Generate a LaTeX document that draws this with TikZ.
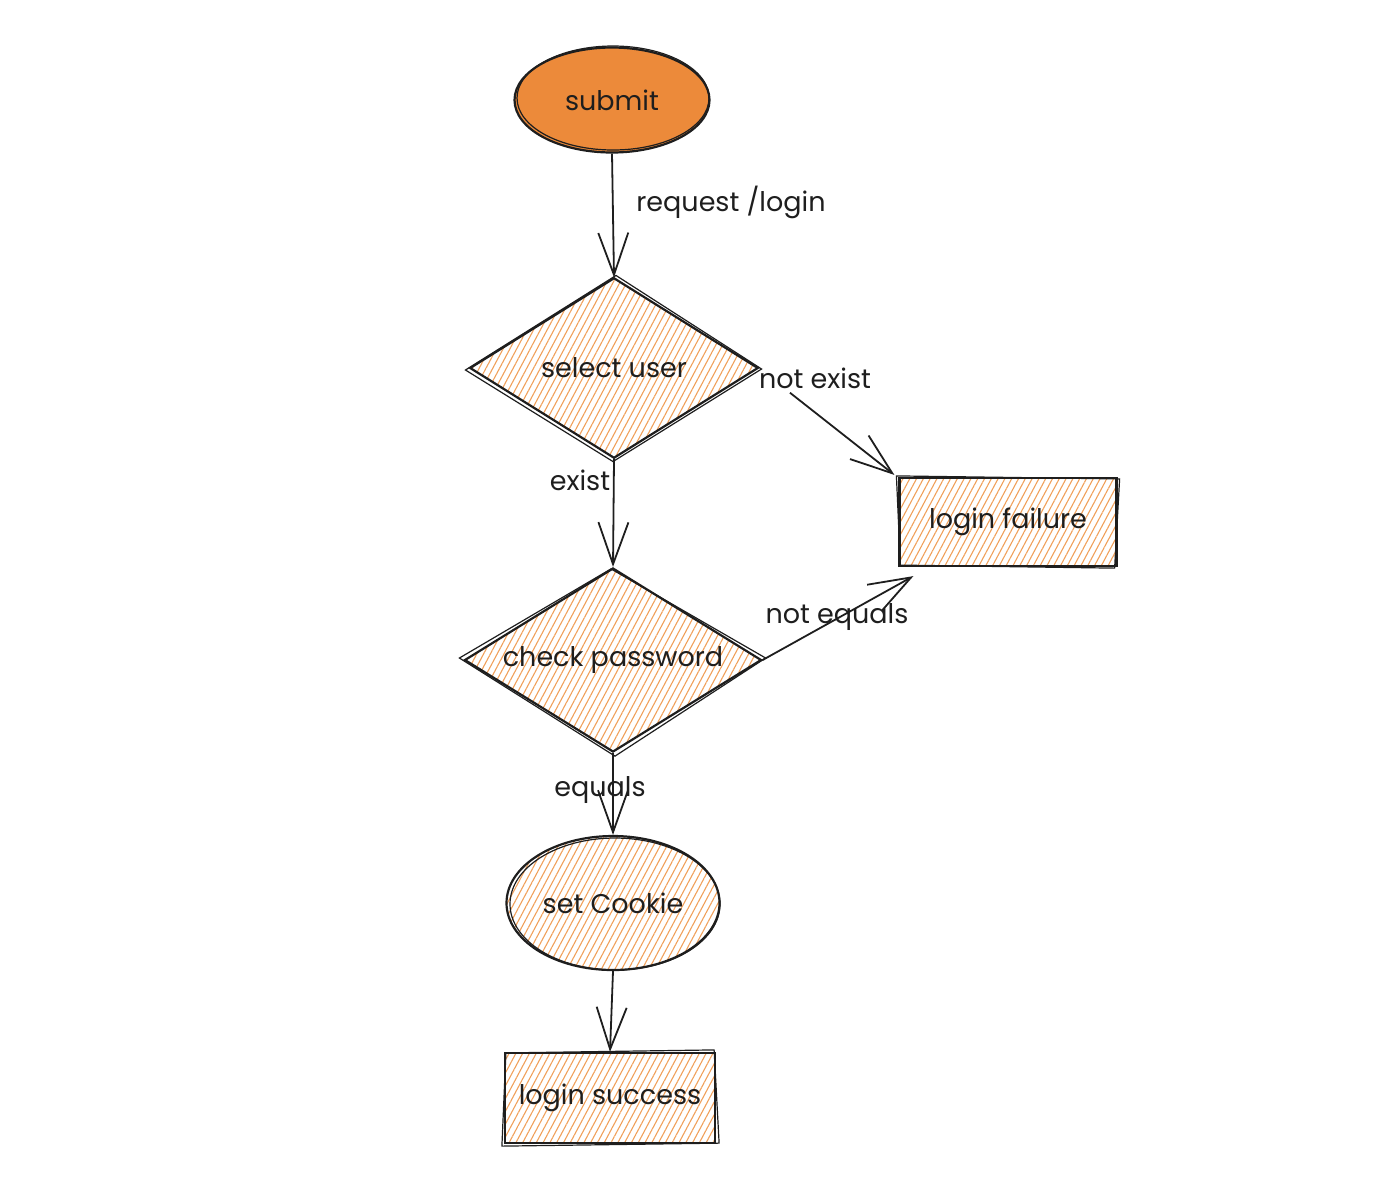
\documentclass[tikz,border=0pt]{standalone}
\usepackage{fontspec}
\setmainfont{Poppins}
\usetikzlibrary{shapes.geometric,arrows.meta,patterns.meta}
\definecolor{solidorange}{HTML}{EC8A3A}
\definecolor{hachorange}{HTML}{F0A05A}
\definecolor{ink}{HTML}{1E1E1E}
\tikzset{
  x=0.5pt, y=-0.5pt,
  every node/.style={font=\fontsize{13.5}{15}\selectfont, text=ink},
  shapeline/.style={draw=ink, line width=1.1pt},
  hach/.style={pattern={Lines[angle=62,distance=3pt,line width=0.55pt]}, pattern color=hachorange},
  decision/.style={shapeline, hach, diamond, aspect=1.6, inner sep=0pt},
  terminal/.style={shapeline, ellipse, inner sep=0pt},
  process/.style={shapeline, hach, rectangle, inner sep=0pt},
  second/.style={draw=ink, line width=0.6pt},
  flow/.style={draw=ink, line width=0.9pt, -{Straight Barb[length=21pt,width=15pt,line width=0.9pt]}},
  lbl/.style={inner sep=1pt},
}
\begin{document}
\begin{tikzpicture}
\useasboundingbox (0,0) rectangle (1400,1180);
% nodes
\node[terminal, fill=solidorange, minimum width=97.5pt, minimum height=52.5pt] (sub) at (612,100) {submit};
\node[decision, minimum width=144pt, minimum height=90pt] (su) at (614,368) {select user};
\node[process, minimum width=108.5pt, minimum height=44pt] (lf) at (1008,522) {login failure};
\node[decision, minimum width=148.5pt, minimum height=92pt] (cp) at (613,660) {check password};
\node[terminal, hach, minimum width=106.5pt, minimum height=67pt] (sc) at (613,903) {set Cookie};
\node[process, minimum width=105pt, minimum height=45pt] (ls) at (610,1098) {login success};
% sketchy second strokes
\draw[second] ([shift={(-4,2)}]su.west) -- ([shift={(2,-2)}]su.north) -- ([shift={(3,1)}]su.east) -- ([shift={(-1,3)}]su.south) -- cycle;
\draw[second] ([shift={(-4,-2)}]cp.west) -- ([shift={(-2,2)}]cp.north) -- ([shift={(3,-2)}]cp.east) -- ([shift={(2,3)}]cp.south) -- cycle;
\draw[second] ([shift={(-2,-1)}]lf.north west) -- ([shift={(2,2)}]lf.north east) -- ([shift={(-3,1)}]lf.south east) -- ([shift={(2,-2)}]lf.south west) -- cycle;
\draw[second] ([shift={(2,1)}]ls.north west) -- ([shift={(-2,-2)}]ls.north east) -- ([shift={(3,-1)}]ls.south east) -- ([shift={(-2,2)}]ls.south west) -- cycle;
\draw[second] ([shift={(1,-2)}]sub.center) ellipse [x radius=48pt, y radius=26pt];
\draw[second] ([shift={(2,1)}]sc.center) ellipse [x radius=52.5pt, y radius=33pt];
% connectors
\draw[flow] (sub.south) -- (su.north);
\draw[flow, shorten <=20pt] (su.east) -- ([shift={(-4,-2)}]lf.north west);
\draw[flow] (su.south) -- (cp.north);
\draw[flow] (cp.east) -- ([shift={(15,9)}]lf.south west);
\draw[flow] (cp.south) -- (sc.north);
\draw[flow] (sc.south) -- (ls.north);
% labels
\node[lbl, anchor=west] (l1) at (634,202) {request /login};
\node[lbl] (l2) at (815,378) {not exist};
\node[lbl] (l3) at (580,480) {exist};
\node[lbl] (l4) at (837,617) {not equals};
\node[lbl] (l5) at (600,790) {equals};
\end{tikzpicture}
\end{document}
